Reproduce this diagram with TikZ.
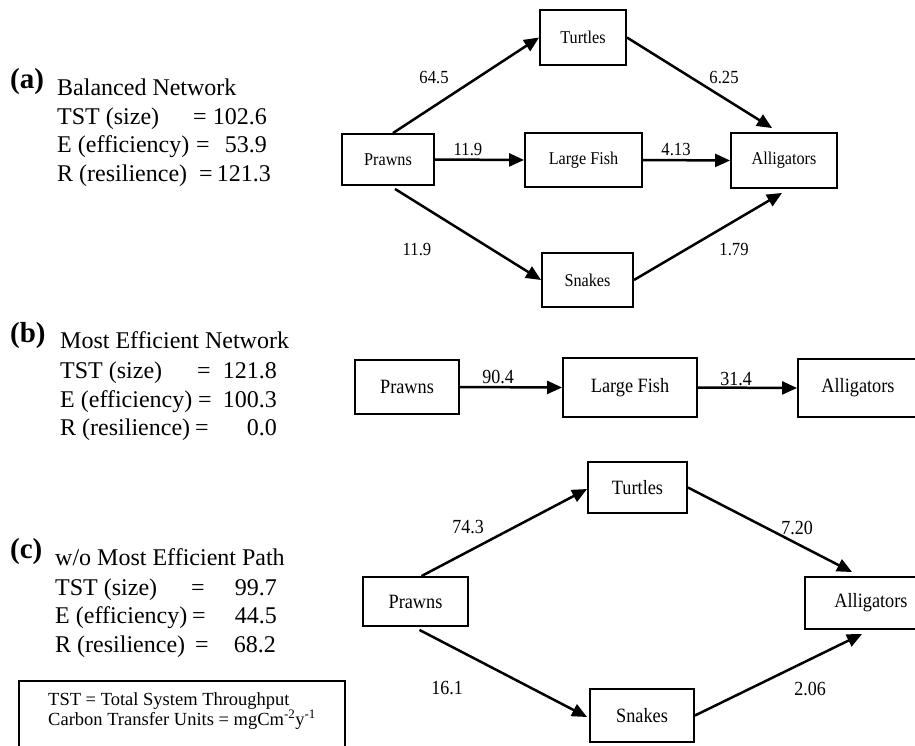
\documentclass[tikz,border=0pt]{standalone}
\usepackage{fontspec}
\setmainfont{Liberation Serif}
\newfontfamily\condserif[FakeStretch=0.9]{Liberation Serif}
\usetikzlibrary{arrows.meta,calc}
\begin{document}
\begin{tikzpicture}[x=1pt,y=-1pt,
  box/.style={draw, line width=1.9pt, inner sep=0pt},
  fa/.style={font=\condserif\fontsize{18}{20}\selectfont},
  fb/.style={font=\condserif\fontsize{20.3}{23}\selectfont},
  fla/.style={font=\condserif\fontsize{18.5}{20}\selectfont},
  flb/.style={font=\condserif\fontsize{20}{22}\selectfont},
  flow/.style={line width=2.5pt, -{Triangle[length=15pt,width=13pt]}},
  lbl/.style={inner sep=0pt},
  leg/.style={font=\fontsize{18.5}{21}\selectfont, inner sep=0pt},
  big/.style={font=\fontsize{24}{28}\selectfont, inner sep=0pt},
  tag/.style={font=\fontsize{29}{32}\selectfont\bfseries, inner sep=0pt, anchor=base west}]
\useasboundingbox (0,0) rectangle (915,746);
\clip (0,0) rectangle (915,746);

% ---------- (a) ----------
\node[tag] (ta) at (10,89) {(a)};
\node[big, anchor=base west] (a0) at (57,96) {Balanced Network};
\node[big, anchor=base west] (a1) at (57,125) {TST (size)};
\node[big, anchor=base] (a1e) at (200,125) {=};
\node[big, anchor=base east] (a1v) at (267,125) {102.6};
\node[big, anchor=base west] (a2) at (57,153) {E (efficiency)};
\node[big, anchor=base] (a2e) at (203,153) {=};
\node[big, anchor=base east] (a2v) at (267,153) {53.9};
\node[big, anchor=base west] (a3) at (57,182) {R (resilience)};
\node[big, anchor=base] (a3e) at (206,182) {=};
\node[big, anchor=base east] (a3v) at (271,182) {121.3};

\node[box, fa, minimum width=92pt, minimum height=51pt] (pa) at (388,159.5) {Prawns};
\node[box, fa, minimum width=86pt, minimum height=55pt] (tua) at (583,37.5) {Turtles};
\node[box, fa, minimum width=117pt, minimum height=54pt] (lfa) at (583.5,160) {Large Fish};
\node[box, fa, minimum width=106pt, minimum height=55pt] (ala) at (784,160.5) {Alligators};
\node[box, fa, minimum width=91pt, minimum height=54pt] (sna) at (587.5,280) {Snakes};

\draw[flow] ($(pa.north)+(5,0)$) -- (tua.west);
\draw[flow] (tua.east) -- ($(ala.north west)+(42,-4)$);
\draw[flow] (pa.east) -- (lfa.west);
\draw[flow] (lfa.east) -- (ala.west);
\draw[flow] ($(pa.south)+(7,3)$) -- (sna.west);
\draw[flow] (sna.east) -- ($(ala.south)+(-2,4)$);

\node[lbl, fla] (la1) at (434,78) {64.5};
\node[lbl, fla] (la2) at (724,78) {6.25};
\node[lbl, fla] (la3) at (468,150) {11.9};
\node[lbl, fla] (la4) at (676,150) {4.13};
\node[lbl, fla] (la5) at (417,250) {11.9};
\node[lbl, fla] (la6) at (734,250) {1.79};

% ---------- (b) ----------
\node[tag] (tb) at (10,342) {(b)};
\node[big, anchor=base west] (b0) at (60,348) {Most Efficient Network};
\node[big, anchor=base west] (b1) at (60,378) {TST (size)};
\node[big, anchor=base] (b1e) at (204,378) {=};
\node[big, anchor=base east] (b1v) at (277,378) {121.8};
\node[big, anchor=base west] (b2) at (60,407) {E (efficiency)};
\node[big, anchor=base] (b2e) at (205,407) {=};
\node[big, anchor=base east] (b2v) at (277,407) {100.3};
\node[big, anchor=base west] (b3) at (60,435) {R (resilience)};
\node[big, anchor=base] (b3e) at (202,435) {=};
\node[big, anchor=base east] (b3v) at (277,435) {0.0};

\node[box, fb, minimum width=104pt, minimum height=54pt] (pb) at (407,387) {Prawns};
\node[box, fb, minimum width=134pt, minimum height=59pt] (lfb) at (630,387.5) {Large Fish};
\node[box, fb, minimum width=120pt, minimum height=58pt] (alb) at (858,388) {Alligators};

\draw[flow] (pb.east) -- (lfb.west);
\draw[flow] (lfb.east) -- (alb.west);
\node[lbl, flb] (lb1) at (498,377) {90.4};
\node[lbl, flb] (lb2) at (736,379) {31.4};

% ---------- (c) ----------
\node[tag] (tc) at (10,558) {(c)};
\node[big, anchor=base west] (c0) at (55,565) {w/o Most Efficient Path};
\node[big, anchor=base west] (c1) at (55,595) {TST (size)};
\node[big, anchor=base] (c1e) at (198,595) {=};
\node[big, anchor=base east] (c1v) at (277,595) {99.7};
\node[big, anchor=base west] (c2) at (55,623) {E (efficiency)};
\node[big, anchor=base] (c2e) at (199,623) {=};
\node[big, anchor=base east] (c2v) at (277,623) {44.5};
\node[big, anchor=base west] (c3) at (55,652) {R (resilience)};
\node[big, anchor=base] (c3e) at (202,652) {=};
\node[big, anchor=base east] (c3v) at (276,652) {68.2};

\node[box, fb, minimum width=105pt, minimum height=49pt] (pc) at (415.5,601.5) {Prawns};
\node[box, fb, minimum width=99pt, minimum height=51pt] (tuc) at (637.5,487.5) {Turtles};
\node[box, fb, minimum width=132pt, minimum height=52pt] (alc) at (871,603) {Alligators};
\node[box, fb, minimum width=104pt, minimum height=53pt] (snc) at (642,715.5) {Snakes};

\draw[flow] ($(pc.north)+(6,0)$) -- ($(tuc.west)+(0,1.5)$);
\draw[flow] (tuc.east) -- ($(alc.north west)+(48,-4)$);
\draw[flow] ($(pc.south)+(4,3)$) -- ($(snc.west)+(-2,1.5)$);
\draw[flow] (snc.east) -- ($(alc.south west)+(58,4)$);

\node[lbl, flb] (lc1) at (468,527) {74.3};
\node[lbl, flb] (lc2) at (797,528) {7.20};
\node[lbl, flb] (lc3) at (447,688) {16.1};
\node[lbl, flb] (lc4) at (810,689) {2.06};

% ---------- legend ----------
\node[box, anchor=north west, minimum width=326pt, minimum height=90pt] (lg) at (18,680) {};
\node[leg, anchor=base west] (leg1) at (48,705) {TST = Total System Throughput};
\node[leg, anchor=base west] (leg2) at (48,725) {Carbon Transfer Units = mgCm\textsuperscript{-2}y\textsuperscript{-1}};
\end{tikzpicture}
\end{document}
